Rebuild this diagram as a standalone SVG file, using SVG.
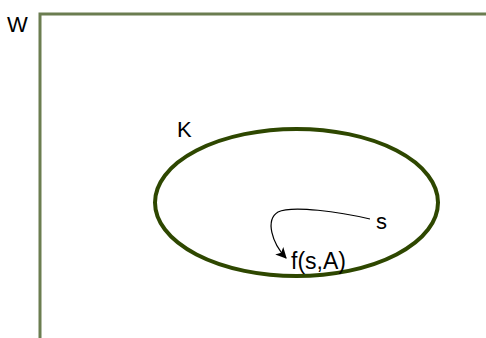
<svg xmlns="http://www.w3.org/2000/svg" width="486" height="338" viewBox="0 0 486 338">
<defs>
<style>
.lbl{font-family:"Liberation Sans",Arial,sans-serif;fill:#000;font-size:22px}
.frame{fill:none;stroke:#6b7d50;stroke-width:3}
.set{fill:none;stroke:#2e4700;stroke-width:4}
.conn{fill:none;stroke:#000;stroke-width:1.2}
</style>
<marker id="ah" viewBox="0 0 10 10" refX="9" refY="5" markerWidth="11" markerHeight="11" markerUnits="userSpaceOnUse" orient="auto">
<path d="M0,0 L10,5 L0,10 L2.5,5 Z" fill="#000"/>
</marker>
</defs>
<g id="W">
<path class="frame" d="M40,338 V14 H486"/>
<text class="lbl" x="7" y="32" font-size="21">W</text>
</g>
<g id="K">
<ellipse class="set" cx="296.5" cy="202.5" rx="141.5" ry="73.5"/>
<text class="lbl" x="177" y="137">K</text>
</g>
<g id="s">
<text class="lbl" x="376" y="229">s</text>
</g>
<g id="fsA">
<text class="lbl" x="291" y="269" style="font-size:23px">f(s,A)</text>
</g>
<g id="connectors">
<path class="conn" marker-end="url(#ah)" d="M370,219 C340,212 292,205 278,212 C265,220 272,243 286,258"/>
</g>
</svg>
